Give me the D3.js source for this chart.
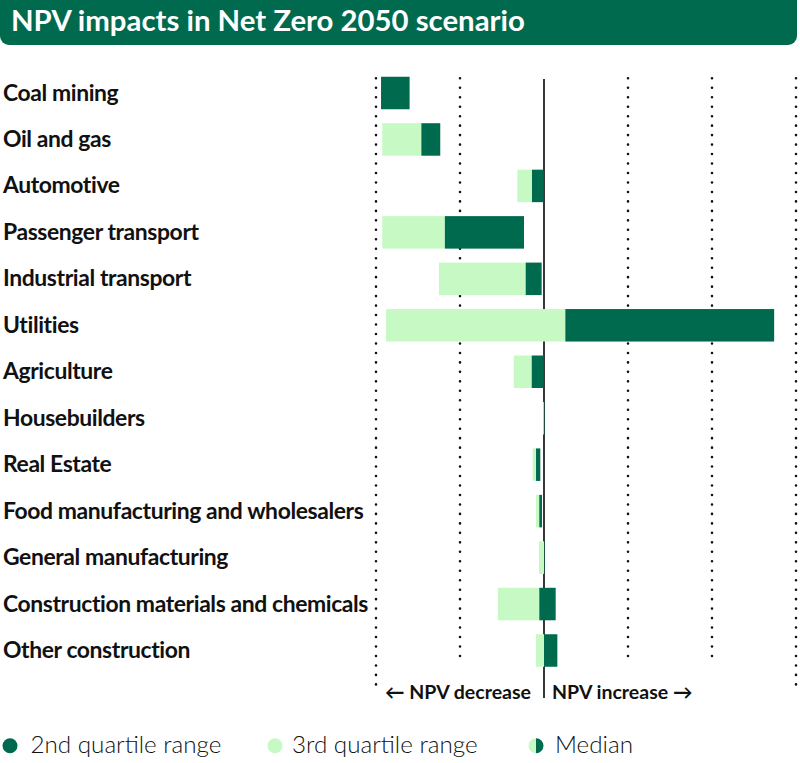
<!DOCTYPE html>
<html>
<head>
<meta charset="utf-8">
<script src="https://cdn.jsdelivr.net/npm/d3@7"></script>
<style>
  html, body { margin: 0; padding: 0; background: #fff; }
  svg { display: block; }
  text { font-family: Lato, "Noto Sans", sans-serif; }
</style>
</head>
<body>
<svg id="chart" width="800" height="763"></svg>
<script>
// ---- Data (NPV impact, arbitrary units) ----
const categories = [
  "Coal mining", "Oil and gas", "Automotive", "Passenger transport",
  "Industrial transport", "Utilities", "Agriculture", "Housebuilders",
  "Real Estate", "Food manufacturing and wholesalers", "General manufacturing",
  "Construction materials and chemicals", "Other construction"
];
// start of 3rd quartile range (light)
const lowerValues  = [-1.94, -1.925, -0.317, -1.925, -1.25, -1.88, -0.36, -0.01, -0.135, -0.095, -0.06, -0.55, -0.095];
// median (boundary between light and dark)
const medianValues = [-1.94, -1.46, -0.143, -1.18, -0.218, 0.254, -0.146, 0.0, -0.095, -0.056, 0.0, -0.056, 0.0];
// end of 2nd quartile range (dark)
const upperValues  = [-1.60, -1.235, -0.005, -0.238, -0.028, 2.74, -0.005, 0.005, -0.044, -0.024, 0.006, 0.139, 0.159];
const gridTicks = [-2, -1, 1, 2, 3];
const title = "NPV impacts in Net Zero 2050 scenario";
const legendItems = ["2nd quartile range", "3rd quartile range", "Median"];
const directionLabels = ["\u2190 NPV decrease", "NPV increase \u2192"];

// ---- Styles ----
const DARK = "#006a4e";
const LIGHT = "#c6f9c4";
const INK = "#111";

const svg = d3.select("#chart");

function fitSize(sel, target, base) {
  sel.attr("font-size", base);
  const w = sel.node().getComputedTextLength();
  const s = base * target / w;
  sel.attr("font-size", s);
  return s;
}

// ---- Title banner ----
svg.append("rect").attr("x", 0).attr("y", -10).attr("width", 797).attr("height", 55)
  .attr("rx", 9).attr("fill", DARK);
const t = svg.append("text").attr("x", 11).attr("y", 31).attr("fill", "#fff")
  .attr("font-weight", 700).text(title);
fitSize(t, 514, 26);

// ---- Scales ----
const x = d3.scaleLinear().domain([-2, 3]).range([376, 796]);
const y = d3.scalePoint().domain(categories).range([93, 650.5]);
const barH = 32.5;

// ---- Grid (dotted) ----
const grid = svg.append("g");
grid.selectAll("line").data(gridTicks).join("line")
  .attr("x1", d => x(d)).attr("x2", d => x(d))
  .attr("y1", 78.3)
  .attr("y2", d => (d === -2 || d === 3) ? 688 : 659)
  .attr("stroke", INK).attr("stroke-width", 2.6)
  .attr("stroke-linecap", "round")
  .attr("stroke-dasharray", "0 9.47");

// ---- Zero line (behind bars) ----
svg.append("line").attr("x1", x(0)).attr("x2", x(0)).attr("y1", 79).attr("y2", 698)
  .attr("stroke", "#222").attr("stroke-width", 1.8);

// ---- Bars ----
const rows = categories.map((c, i) => ({ c, lo: lowerValues[i], med: medianValues[i], hi: upperValues[i] }));
const bars = svg.append("g");
bars.selectAll("rect.light").data(rows).join("rect").attr("class", "light")
  .attr("x", d => x(Math.min(d.lo, d.med)))
  .attr("width", d => Math.abs(x(d.med) - x(d.lo)))
  .attr("y", d => y(d.c) - barH / 2).attr("height", barH)
  .attr("fill", LIGHT);
bars.selectAll("rect.dark").data(rows).join("rect").attr("class", "dark")
  .attr("x", d => x(Math.min(d.med, d.hi)))
  .attr("width", d => Math.abs(x(d.hi) - x(d.med)))
  .attr("y", d => y(d.c) - barH / 2).attr("height", barH)
  .attr("fill", DARK);

// ---- Category labels ----
const labels = svg.append("g").selectAll("text").data(categories).join("text")
  .attr("x", 3).attr("y", d => y(d) + 7.5)
  .attr("fill", INK).attr("font-weight", 700)
  .attr("letter-spacing", -0.4)
  .text(d => d);
const longest = labels.filter(d => d === "Construction materials and chemicals");
const ls = fitSize(longest, 363, 20);
labels.attr("font-size", ls);

// ---- Direction labels ----
const dl = svg.append("g").attr("font-weight", 700).attr("fill", INK);
const dLeft = dl.append("text").attr("x", 531).attr("y", 699).attr("text-anchor", "end").text(directionLabels[0]);
const ds = fitSize(dLeft, 146, 17);
dl.append("text").attr("x", 552).attr("y", 699).attr("font-size", ds).text(directionLabels[1]);

// ---- Legend ----
const ly = 745.7, r = 7.5;
const lg = svg.append("g");
lg.append("circle").attr("cx", 10).attr("cy", ly).attr("r", r).attr("fill", DARK);
lg.append("circle").attr("cx", 275).attr("cy", ly).attr("r", r).attr("fill", LIGHT);
const arc = d3.arc().innerRadius(0).outerRadius(r);
lg.append("path").attr("transform", `translate(536,${ly})`)
  .attr("d", arc({ startAngle: Math.PI, endAngle: 2 * Math.PI })).attr("fill", LIGHT);
lg.append("path").attr("transform", `translate(536,${ly})`)
  .attr("d", arc({ startAngle: 0, endAngle: Math.PI })).attr("fill", DARK);
const legX = [30.5, 292, 555];
const lt = lg.selectAll("text").data(legendItems).join("text")
  .attr("x", (d, i) => legX[i]).attr("y", ly + 7)
  .attr("fill", INK).attr("font-weight", 300).text(d => d);
const lsz = fitSize(lt.filter((d, i) => i === 0), 191, 20);
lt.attr("font-size", lsz);
</script>
</body>
</html>
